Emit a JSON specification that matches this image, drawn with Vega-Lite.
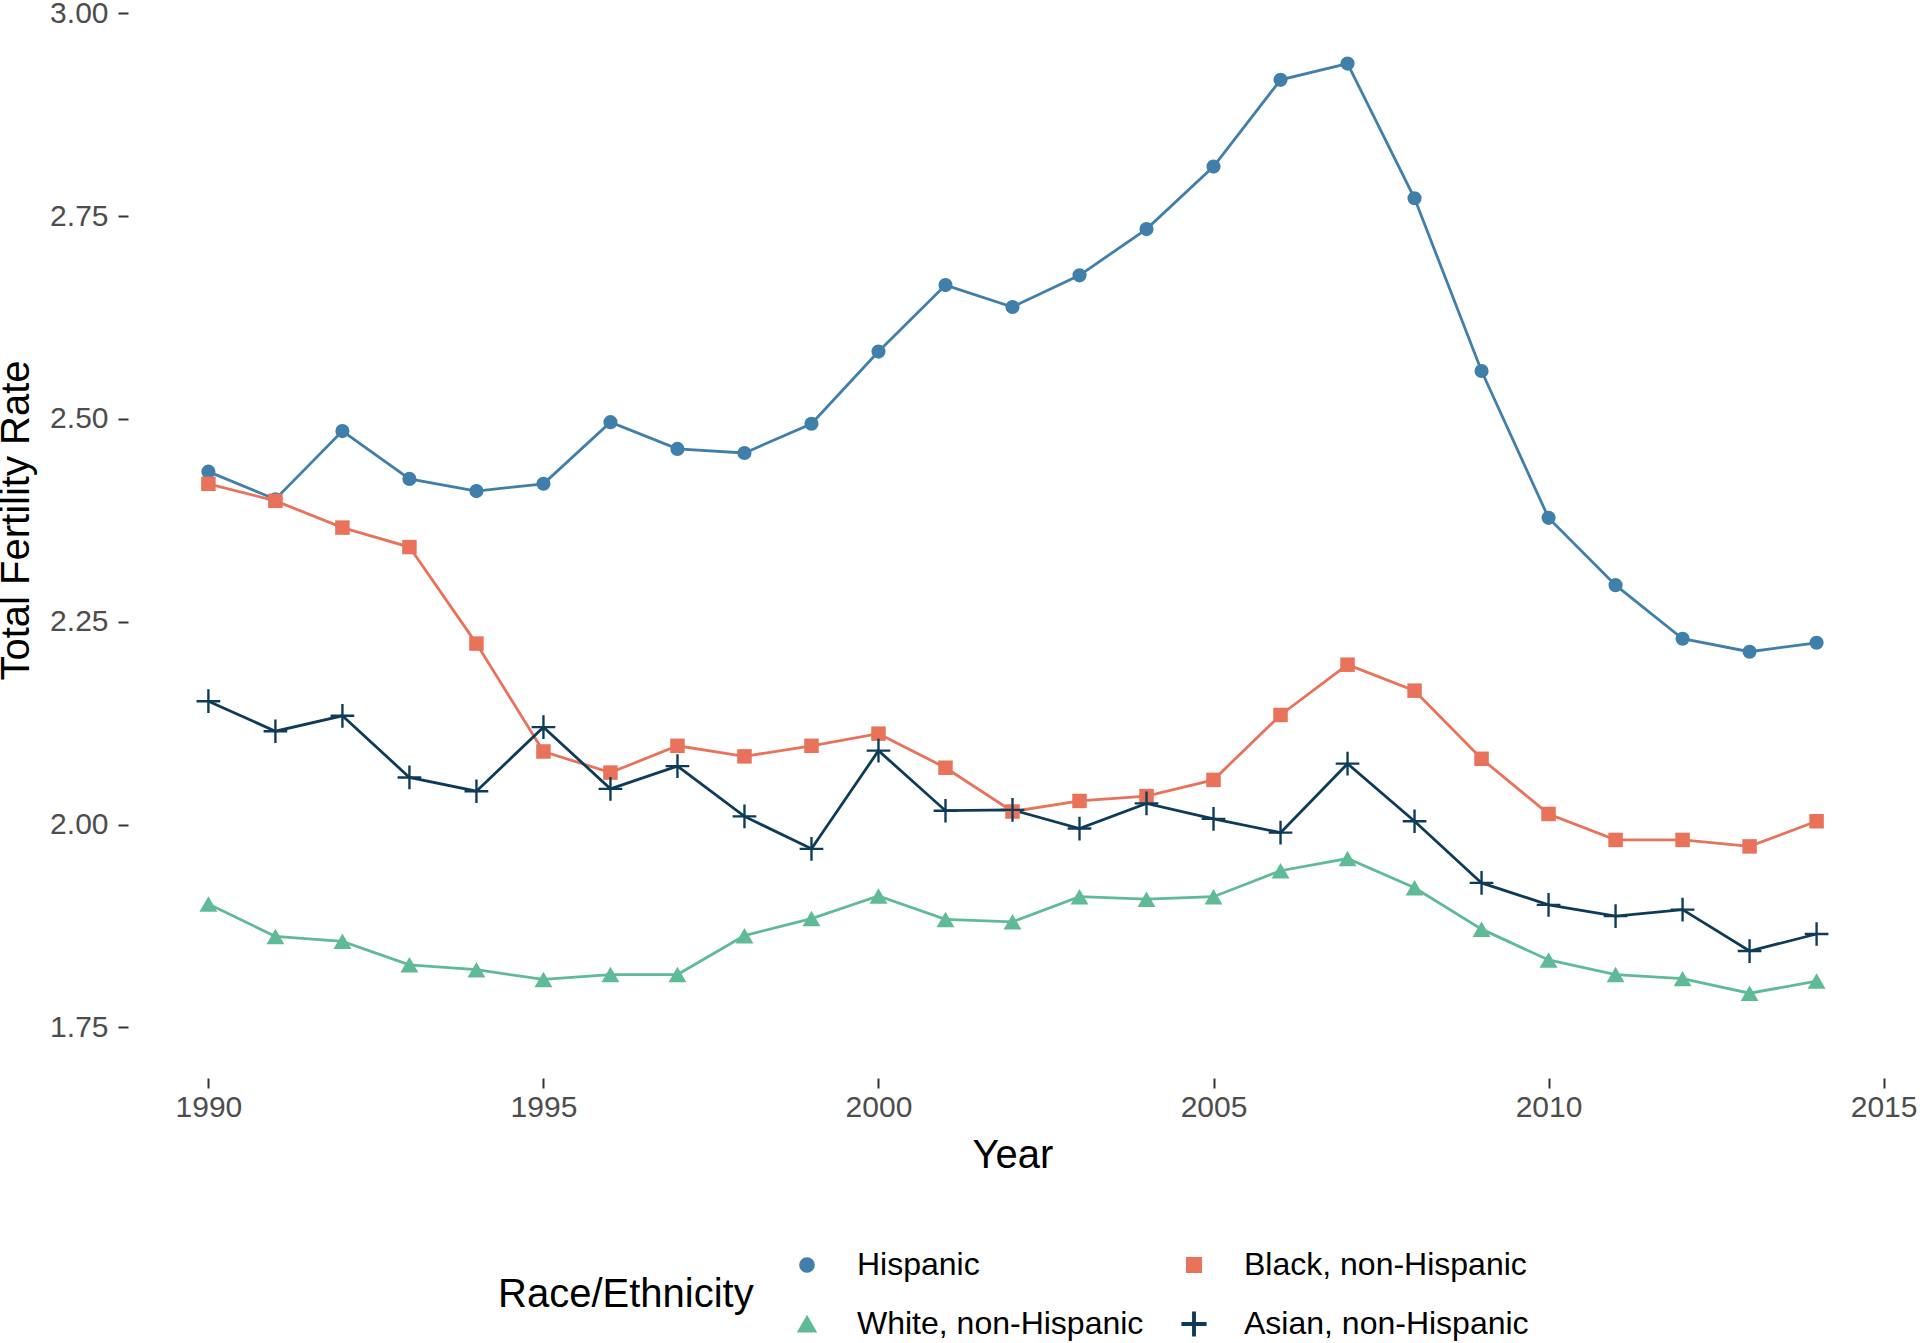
{
 "$schema": "https://vega.github.io/schema/vega-lite/v6.json",
 "width": 1769,
 "height": 1078,
 "autosize": {"type": "none"},
 "padding": {"left": 128, "top": 0, "right": 23, "bottom": 265},
 "background": "white",
 "config": {
  "view": {"stroke": null},
  "font": "Liberation Sans",
  "axis": {
   "grid": false,
   "domain": false,
   "tickColor": "#333333",
   "tickWidth": 2,
   "tickSize": 10,
   "labelFont": "Liberation Sans",
   "labelFontSize": 30,
   "labelColor": "#4d4d4d",
   "titleFont": "Liberation Sans",
   "titleFontSize": 40,
   "titleFontWeight": "normal",
   "titleColor": "black"
  }
 },
 "data": {"values": [
  {"year": 1990, "group": "Hispanic", "tfr": 2.435},
  {"year": 1991, "group": "Hispanic", "tfr": 2.401},
  {"year": 1992, "group": "Hispanic", "tfr": 2.485},
  {"year": 1993, "group": "Hispanic", "tfr": 2.426},
  {"year": 1994, "group": "Hispanic", "tfr": 2.411},
  {"year": 1995, "group": "Hispanic", "tfr": 2.420},
  {"year": 1996, "group": "Hispanic", "tfr": 2.496},
  {"year": 1997, "group": "Hispanic", "tfr": 2.463},
  {"year": 1998, "group": "Hispanic", "tfr": 2.458},
  {"year": 1999, "group": "Hispanic", "tfr": 2.494},
  {"year": 2000, "group": "Hispanic", "tfr": 2.583},
  {"year": 2001, "group": "Hispanic", "tfr": 2.665},
  {"year": 2002, "group": "Hispanic", "tfr": 2.638},
  {"year": 2003, "group": "Hispanic", "tfr": 2.677},
  {"year": 2004, "group": "Hispanic", "tfr": 2.734},
  {"year": 2005, "group": "Hispanic", "tfr": 2.811},
  {"year": 2006, "group": "Hispanic", "tfr": 2.918},
  {"year": 2007, "group": "Hispanic", "tfr": 2.938},
  {"year": 2008, "group": "Hispanic", "tfr": 2.772},
  {"year": 2009, "group": "Hispanic", "tfr": 2.559},
  {"year": 2010, "group": "Hispanic", "tfr": 2.378},
  {"year": 2011, "group": "Hispanic", "tfr": 2.295},
  {"year": 2012, "group": "Hispanic", "tfr": 2.229},
  {"year": 2013, "group": "Hispanic", "tfr": 2.213},
  {"year": 2014, "group": "Hispanic", "tfr": 2.224},
  {"year": 1990, "group": "White, non-Hispanic", "tfr": 1.902},
  {"year": 1991, "group": "White, non-Hispanic", "tfr": 1.862},
  {"year": 1992, "group": "White, non-Hispanic", "tfr": 1.856},
  {"year": 1993, "group": "White, non-Hispanic", "tfr": 1.827},
  {"year": 1994, "group": "White, non-Hispanic", "tfr": 1.821},
  {"year": 1995, "group": "White, non-Hispanic", "tfr": 1.809},
  {"year": 1996, "group": "White, non-Hispanic", "tfr": 1.815},
  {"year": 1997, "group": "White, non-Hispanic", "tfr": 1.815},
  {"year": 1998, "group": "White, non-Hispanic", "tfr": 1.863},
  {"year": 1999, "group": "White, non-Hispanic", "tfr": 1.884},
  {"year": 2000, "group": "White, non-Hispanic", "tfr": 1.912},
  {"year": 2001, "group": "White, non-Hispanic", "tfr": 1.883},
  {"year": 2002, "group": "White, non-Hispanic", "tfr": 1.880},
  {"year": 2003, "group": "White, non-Hispanic", "tfr": 1.911},
  {"year": 2004, "group": "White, non-Hispanic", "tfr": 1.908},
  {"year": 2005, "group": "White, non-Hispanic", "tfr": 1.911},
  {"year": 2006, "group": "White, non-Hispanic", "tfr": 1.943},
  {"year": 2007, "group": "White, non-Hispanic", "tfr": 1.958},
  {"year": 2008, "group": "White, non-Hispanic", "tfr": 1.922},
  {"year": 2009, "group": "White, non-Hispanic", "tfr": 1.871},
  {"year": 2010, "group": "White, non-Hispanic", "tfr": 1.833},
  {"year": 2011, "group": "White, non-Hispanic", "tfr": 1.815},
  {"year": 2012, "group": "White, non-Hispanic", "tfr": 1.810},
  {"year": 2013, "group": "White, non-Hispanic", "tfr": 1.792},
  {"year": 2014, "group": "White, non-Hispanic", "tfr": 1.807},
  {"year": 1990, "group": "Black, non-Hispanic", "tfr": 2.420},
  {"year": 1991, "group": "Black, non-Hispanic", "tfr": 2.399},
  {"year": 1992, "group": "Black, non-Hispanic", "tfr": 2.366},
  {"year": 1993, "group": "Black, non-Hispanic", "tfr": 2.342},
  {"year": 1994, "group": "Black, non-Hispanic", "tfr": 2.223},
  {"year": 1995, "group": "Black, non-Hispanic", "tfr": 2.090},
  {"year": 1996, "group": "Black, non-Hispanic", "tfr": 2.064},
  {"year": 1997, "group": "Black, non-Hispanic", "tfr": 2.097},
  {"year": 1998, "group": "Black, non-Hispanic", "tfr": 2.084},
  {"year": 1999, "group": "Black, non-Hispanic", "tfr": 2.097},
  {"year": 2000, "group": "Black, non-Hispanic", "tfr": 2.112},
  {"year": 2001, "group": "Black, non-Hispanic", "tfr": 2.070},
  {"year": 2002, "group": "Black, non-Hispanic", "tfr": 2.016},
  {"year": 2003, "group": "Black, non-Hispanic", "tfr": 2.029},
  {"year": 2004, "group": "Black, non-Hispanic", "tfr": 2.035},
  {"year": 2005, "group": "Black, non-Hispanic", "tfr": 2.055},
  {"year": 2006, "group": "Black, non-Hispanic", "tfr": 2.135},
  {"year": 2007, "group": "Black, non-Hispanic", "tfr": 2.197},
  {"year": 2008, "group": "Black, non-Hispanic", "tfr": 2.165},
  {"year": 2009, "group": "Black, non-Hispanic", "tfr": 2.081},
  {"year": 2010, "group": "Black, non-Hispanic", "tfr": 2.013},
  {"year": 2011, "group": "Black, non-Hispanic", "tfr": 1.981},
  {"year": 2012, "group": "Black, non-Hispanic", "tfr": 1.981},
  {"year": 2013, "group": "Black, non-Hispanic", "tfr": 1.973},
  {"year": 2014, "group": "Black, non-Hispanic", "tfr": 2.004},
  {"year": 1990, "group": "Asian, non-Hispanic", "tfr": 2.152},
  {"year": 1991, "group": "Asian, non-Hispanic", "tfr": 2.115},
  {"year": 1992, "group": "Asian, non-Hispanic", "tfr": 2.134},
  {"year": 1993, "group": "Asian, non-Hispanic", "tfr": 2.058},
  {"year": 1994, "group": "Asian, non-Hispanic", "tfr": 2.041},
  {"year": 1995, "group": "Asian, non-Hispanic", "tfr": 2.120},
  {"year": 1996, "group": "Asian, non-Hispanic", "tfr": 2.044},
  {"year": 1997, "group": "Asian, non-Hispanic", "tfr": 2.072},
  {"year": 1998, "group": "Asian, non-Hispanic", "tfr": 2.010},
  {"year": 1999, "group": "Asian, non-Hispanic", "tfr": 1.970},
  {"year": 2000, "group": "Asian, non-Hispanic", "tfr": 2.091},
  {"year": 2001, "group": "Asian, non-Hispanic", "tfr": 2.017},
  {"year": 2002, "group": "Asian, non-Hispanic", "tfr": 2.018},
  {"year": 2003, "group": "Asian, non-Hispanic", "tfr": 1.995},
  {"year": 2004, "group": "Asian, non-Hispanic", "tfr": 2.026},
  {"year": 2005, "group": "Asian, non-Hispanic", "tfr": 2.007},
  {"year": 2006, "group": "Asian, non-Hispanic", "tfr": 1.990},
  {"year": 2007, "group": "Asian, non-Hispanic", "tfr": 2.075},
  {"year": 2008, "group": "Asian, non-Hispanic", "tfr": 2.004},
  {"year": 2009, "group": "Asian, non-Hispanic", "tfr": 1.928},
  {"year": 2010, "group": "Asian, non-Hispanic", "tfr": 1.901},
  {"year": 2011, "group": "Asian, non-Hispanic", "tfr": 1.887},
  {"year": 2012, "group": "Asian, non-Hispanic", "tfr": 1.895},
  {"year": 2013, "group": "Asian, non-Hispanic", "tfr": 1.844},
  {"year": 2014, "group": "Asian, non-Hispanic", "tfr": 1.865}
 ]},
 "encoding": {
  "x": {
   "field": "year", "type": "quantitative",
   "scale": {"domain": [1988.8, 2015.2], "nice": false, "zero": false},
   "axis": {
    "title": "Year",
    "values": [1990, 1995, 2000, 2005, 2010, 2015],
    "format": "d",
    "labelPadding": 4,
    "titleBaseline": "alphabetic",
    "titleY": 89
   }
  },
  "y": {
   "field": "tfr", "type": "quantitative",
   "scale": {"domain": [1.6875, 3.0164], "nice": false, "zero": false},
   "axis": {
    "title": "Total Fertility Rate",
    "values": [1.75, 2.0, 2.25, 2.5, 2.75, 3.0],
    "format": ".2f",
    "labelPadding": 10,
    "titleX": -112,
    "titleY": 520,
    "titleBaseline": "middle",
    "titleAngle": -90
   }
  }
 },
 "layer": [
  {
   "mark": {"type": "line", "strokeWidth": 2.8},
   "encoding": {
    "color": {
     "field": "group", "type": "nominal",
     "title": "Race/Ethnicity",
     "scale": {
      "domain": ["Hispanic", "White, non-Hispanic", "Black, non-Hispanic", "Asian, non-Hispanic"],
      "range": ["#3f7faa", "#5fbb97", "#e8725a", "#0d3b58"]
     }
    }
   }
  },
  {
   "mark": {"type": "point", "filled": true, "opacity": 1},
   "encoding": {
    "color": {
     "field": "group", "type": "nominal",
     "title": "Race/Ethnicity",
     "scale": {
      "domain": ["Hispanic", "White, non-Hispanic", "Black, non-Hispanic", "Asian, non-Hispanic"],
      "range": ["#3f7faa", "#5fbb97", "#e8725a", "#0d3b58"]
     },
     "legend": {
      "orient": "none",
      "legendX": 370,
      "legendY": 1249,
      "columns": 2,
      "titleOrient": "left",
      "titleFontSize": 40,
      "titleFontWeight": "normal",
      "titleColor": "black",
      "titleFont": "Liberation Sans",
      "titleLimit": 500,
      "titlePadding": 37,
      "titleBaseline": "middle",
      "titleAnchor": "middle",
      "labelFont": "Liberation Sans",
      "labelFontSize": 32,
      "labelColor": "black",
      "labelLimit": 500,
      "labelOffset": 34,
      "columnPadding": 34,
      "rowPadding": 27
     }
    },
    "shape": {
     "field": "group", "type": "nominal",
     "title": "Race/Ethnicity",
     "scale": {
      "domain": ["Hispanic", "White, non-Hispanic", "Black, non-Hispanic", "Asian, non-Hispanic"],
      "range": ["circle", "triangle-up", "square", "M-1,-0.1H-0.1V-1H0.1V-0.1H1V0.1H0.1V1H-0.1V0.1H-1Z"]
     }
    },
    "size": {
     "field": "group", "type": "nominal",
     "title": "Race/Ethnicity",
     "scale": {
      "type": "ordinal",
      "domain": ["Hispanic", "White, non-Hispanic", "Black, non-Hispanic", "Asian, non-Hispanic"],
      "range": [200, 320, 210, 560]
     }
    }
   }
  }
 ]
}
